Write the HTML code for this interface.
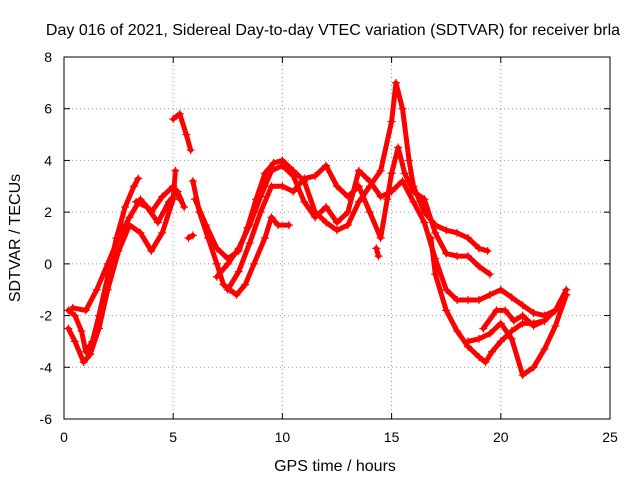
<!DOCTYPE html>
<html><head><meta charset="utf-8"><style>
body{margin:0;background:#fff}
svg{font-family:"Liberation Sans",sans-serif;font-size:14px}
.big{font-size:16px}
</style></head><body>
<svg width="640" height="480" id="c">
<text class="big" x="333" y="35" text-anchor="middle">Day 016 of 2021, Sidereal Day-to-day VTEC variation (SDTVAR) for receiver brla</text>
<text class="big" x="335" y="471" text-anchor="middle">GPS time / hours</text>
<text class="big" transform="translate(20,238) rotate(-90)" text-anchor="middle">SDTVAR / TECUs</text>
<g id="grid"></g><g id="ticks"></g><g id="series"></g>
<rect x="64" y="57" width="546" height="362" fill="none" stroke="#000"/>
</svg>
<script>
const xTicks=[0,5,10,15,20,25];
const yTicks=[-6,-4,-2,0,2,4,6,8];
const s1=[[0.2,-1.8],[0.5,-2],[0.8,-2.6],[1,-3.4],[1.3,-3],[1.6,-2],[2,-0.5],[2.4,1],[2.8,2.2],[3.2,3],[3.4,3.3]];
const s2=[[3.3,2.4],[3.8,2.2],[4.3,1.6],[4.8,2.4],[5.2,2.8],[5.5,2.2]];
const s3=[[0.2,-2.5],[0.5,-3],[0.9,-3.8],[1.2,-3.5],[1.6,-2.5],[2,-1],[2.5,0.5],[3,1.5],[3.5,1.2],[4,0.5],[4.5,1.2],[5,2.5],[5.1,3.6]];
const s4=[[0.4,-1.7],[1,-1.8],[1.5,-1],[2,0],[2.5,1],[3,1.8],[3.5,2.5],[4,2],[4.5,2.6],[5,3],[5.3,2.5]];
const s5=[[5,5.6],[5.3,5.8],[5.6,5],[5.8,4.4]];
const s6=[[5.7,1],[5.9,1.1]];
const s7=[[5.9,3.2],[6.2,2],[6.6,1],[7,0],[7.3,-0.8],[7.6,-1],[7.9,-1.2],[8.3,-0.8],[8.7,0],[9.2,1],[9.5,1.8],[9.8,1.5],[10.3,1.5]];
const s8=[[6,2.5],[6.5,1.5],[7,0.6],[7.5,0.2],[8,0.5],[8.4,1.4],[8.8,2.5],[9.2,3.5],[9.6,3.9],[10,4],[10.5,3.6],[11,3.2],[11.5,2],[12,1.6],[12.5,1.3],[13,1.5],[13.5,2.4],[14,3],[14.5,3.6],[15,5.5],[15.2,7],[15.5,6],[15.8,4],[16,3],[16.5,2],[17,1.5],[17.5,1.3],[18,1.2],[18.5,1],[19,0.6],[19.4,0.5]];
const s9=[[7.5,-1],[8,-0.3],[8.5,0.8],[9,2],[9.5,3],[10,3],[10.5,2.8],[11,3.3],[11.5,3.4],[12,3.8],[12.5,3],[13,2.6],[13.5,3],[14,2],[14.5,1],[14.8,2.5],[15,3.5],[15.3,4.5],[15.6,3.5],[16,2.8],[16.5,2.5],[17,1.2],[17.5,0.4],[18,0.3],[18.5,0.3],[19,-0.1],[19.5,-0.4]];
const s10=[[7,-0.5],[7.5,0],[8,0.6],[8.5,1.5],[9,2.6],[9.5,3.6],[10,3.8],[10.5,3.4],[11,2.4],[11.5,1.8],[12,2.2],[12.5,1.6],[13,2],[13.5,3.6],[14,3.2],[14.5,2.6],[15,2.8],[15.5,3.2],[16,2.4],[16.5,1.6],[17,0.2],[17.5,-1],[18,-1.4],[18.5,-1.4],[19,-1.4],[19.5,-1.2],[20,-1],[20.5,-1.3],[21,-1.6],[21.5,-1.9],[22,-2],[22.5,-1.8],[23,-1.2]];
const s11=[[16.8,1],[17,-0.4],[17.5,-1.8],[18,-2.6],[18.5,-3.2],[19,-3.6],[19.3,-3.8],[19.6,-3.4],[20,-3],[20.5,-2.6],[21,-2.3],[21.5,-2.3],[22,-2.2],[22.5,-1.8],[23,-1]];
const s12=[[18.5,-3],[19,-2.9],[19.5,-2.7],[20,-2.3],[20.5,-2.9],[21,-4.3],[21.5,-4],[22,-3.3],[22.5,-2.4],[23,-1.2]];
const s13=[[19.2,-2.5],[19.8,-1.8],[20.2,-1.8],[20.6,-2.2],[21,-2],[21.5,-2.4],[22,-2.2]];
const s14=[[14.3,0.6],[14.4,0.3]];
const allSeries=[s1,s2,s3,s4,s5,s6,s7,s8,s9,s10,s11,s12,s13,s14];
const NS="http://www.w3.org/2000/svg";
const X=v=>64+v*546/25, Y=v=>419-(v+6)*362/14;
function mk(t,a,p){const e=document.createElementNS(NS,t);for(const k in a)e.setAttribute(k,a[k]);p.appendChild(e);return e;}
const G=document.getElementById('grid'),T=document.getElementById('ticks'),S=document.getElementById('series');
xTicks.forEach(v=>{
 if(v>0&&v<25){const l=mk('line',{x1:X(v),x2:X(v),y1:57,y2:419,stroke:'#999','stroke-dasharray':'1,3'},G);
 
 }
 mk('line',{x1:X(v),x2:X(v),y1:419,y2:413,stroke:'#000'},T);
 mk('line',{x1:X(v),x2:X(v),y1:57,y2:63,stroke:'#000'},T);
 const t=mk('text',{x:X(v),y:442,'text-anchor':'middle'},T);t.textContent=v;
 
 
});
yTicks.forEach(v=>{
 if(v>-6&&v<8){const l=mk('line',{x1:64,x2:610,y1:Y(v),y2:Y(v),stroke:'#999','stroke-dasharray':'1,3'},G);
 
 }
 mk('line',{x1:64,x2:70,y1:Y(v),y2:Y(v),stroke:'#000'},T);
 mk('line',{x1:610,x2:604,y1:Y(v),y2:Y(v),stroke:'#000'},T);
 const t=mk('text',{x:52,y:Y(v)+5,'text-anchor':'end'},T);t.textContent=v;
 
 
});
allSeries.forEach((s,i)=>{
 const p=mk('polyline',{points:s.map(d=>X(d[0])+','+Y(d[1])).join(' '),fill:'none',stroke:'#f00','stroke-width':5,'stroke-linejoin':'round','stroke-linecap':'round'},S);
 
 
 s.forEach(d=>{const x=X(d[0]),y=Y(d[1]);
  mk('path',{d:`M${x-4},${y}H${x+4}M${x},${y-4}V${y+4}`,stroke:'#f00','stroke-width':1.2},S);});
});
</script>
</body></html>
